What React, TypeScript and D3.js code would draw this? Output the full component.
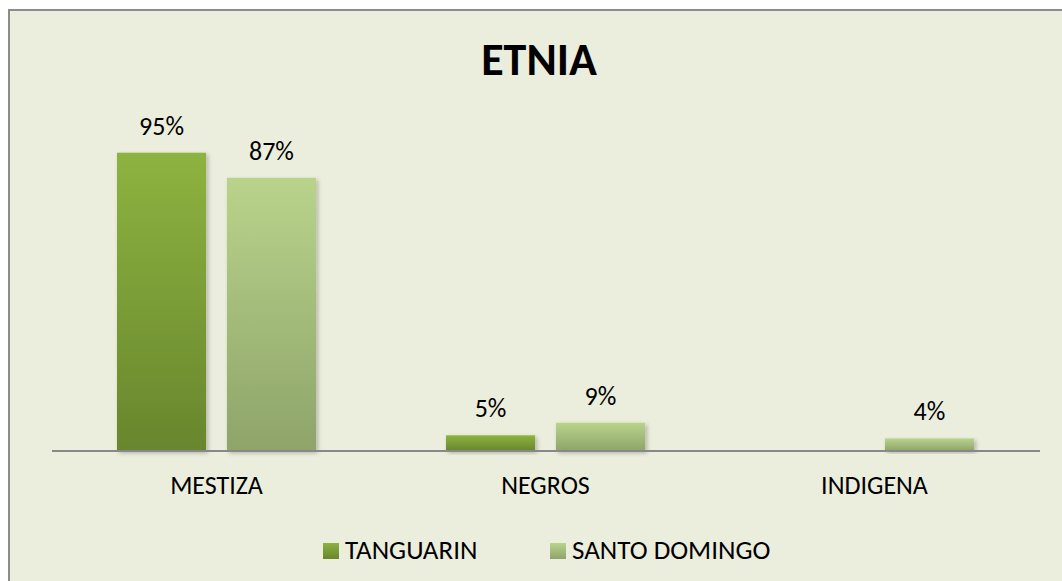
import React from "react";
import * as d3 from "d3";

const categories = ["MESTIZA", "NEGROS", "INDIGENA"];
const seriesNames = ["TANGUARIN", "SANTO DOMINGO"];
const tanguarin = [95, 5, 0];
const santoDomingo = [87, 9, 4];
const valueLabels = [["95%", "5%", ""], ["87%", "9%", "4%"]];

const W = 1062, H = 581;
const FONT = "Carlito, Lato, 'Open Sans', sans-serif";

export default function App() {
  const x0 = d3.scaleBand().domain(categories).range([52, 1039]).paddingInner(0.395).paddingOuter(0.1975);
  const x1 = d3.scaleBand().domain(seriesNames).range([0, x0.bandwidth()]).paddingInner(0.19);
  const y = d3.scaleLinear().domain([0, 100]).range([451, 137]);
  const data = [tanguarin, santoDomingo];
  const fills = ["url(#gT)", "url(#gS)"];
  return (
    <svg width={W} height={H} style={{ position: "absolute", left: 0, top: 0 }}>
      <defs>
        <linearGradient id="gT" x1="0" y1="0" x2="0" y2="1">
          <stop offset="0" stopColor="#8DB340" />
          <stop offset="1" stopColor="#68862D" />
        </linearGradient>
        <linearGradient id="gS" x1="0" y1="0" x2="0" y2="1">
          <stop offset="0" stopColor="#B9D38B" />
          <stop offset="1" stopColor="#8EA46A" />
        </linearGradient>
        <filter id="sh" x="-10%" y="-10%" width="130%" height="130%">
          <feDropShadow dx="2" dy="2" stdDeviation="2" floodColor="#000" floodOpacity="0.25" />
        </filter>
      </defs>
      <rect x={0} y={0} width={W} height={H} fill="#fff" />
      <rect x={9} y={10} width={W + 10} height={H + 10} fill="#EBEEDD" stroke="#8C8C8C" strokeWidth={2} />
      <text x={539} y={75} textAnchor="middle" fontFamily={FONT} fontWeight="bold" fontSize={46} fill="#000">ETNIA</text>
      {data.map((vals, si) =>
        vals.map((v, ci) => {
          const bx = (x0(categories[ci]) as number) + (x1(seriesNames[si]) as number);
          const bw = x1.bandwidth();
          return (
            <g key={`${si}-${ci}`}>
              {v > 0 && (
                <rect x={bx} y={y(v)} width={bw} height={y(0) - y(v)} fill={fills[si]} filter="url(#sh)" />
              )}
              {valueLabels[si][ci] && (
                <text x={bx + bw / 2} y={y(v) - 18} textAnchor="middle" fontFamily={FONT} fontSize={26} fill="#000">
                  {valueLabels[si][ci]}
                </text>
              )}
            </g>
          );
        })
      )}
      <line x1={52} x2={1040} y1={451} y2={451} stroke="#888" strokeWidth={2} />
      {categories.map((c) => (
        <text key={c} x={(x0(c) as number) + x0.bandwidth() / 2} y={494} textAnchor="middle" fontFamily={FONT} fontSize={26} fill="#000">{c}</text>
      ))}
      {seriesNames.map((s, i) => {
        const lx = [323, 550][i];
        return (
          <g key={s}>
            <rect x={lx} y={543} width={16} height={16} fill={fills[i]} />
            <text x={lx + 22} y={559} fontFamily={FONT} fontSize={27} fill="#000">{s}</text>
          </g>
        );
      })}
    </svg>
  );
}
